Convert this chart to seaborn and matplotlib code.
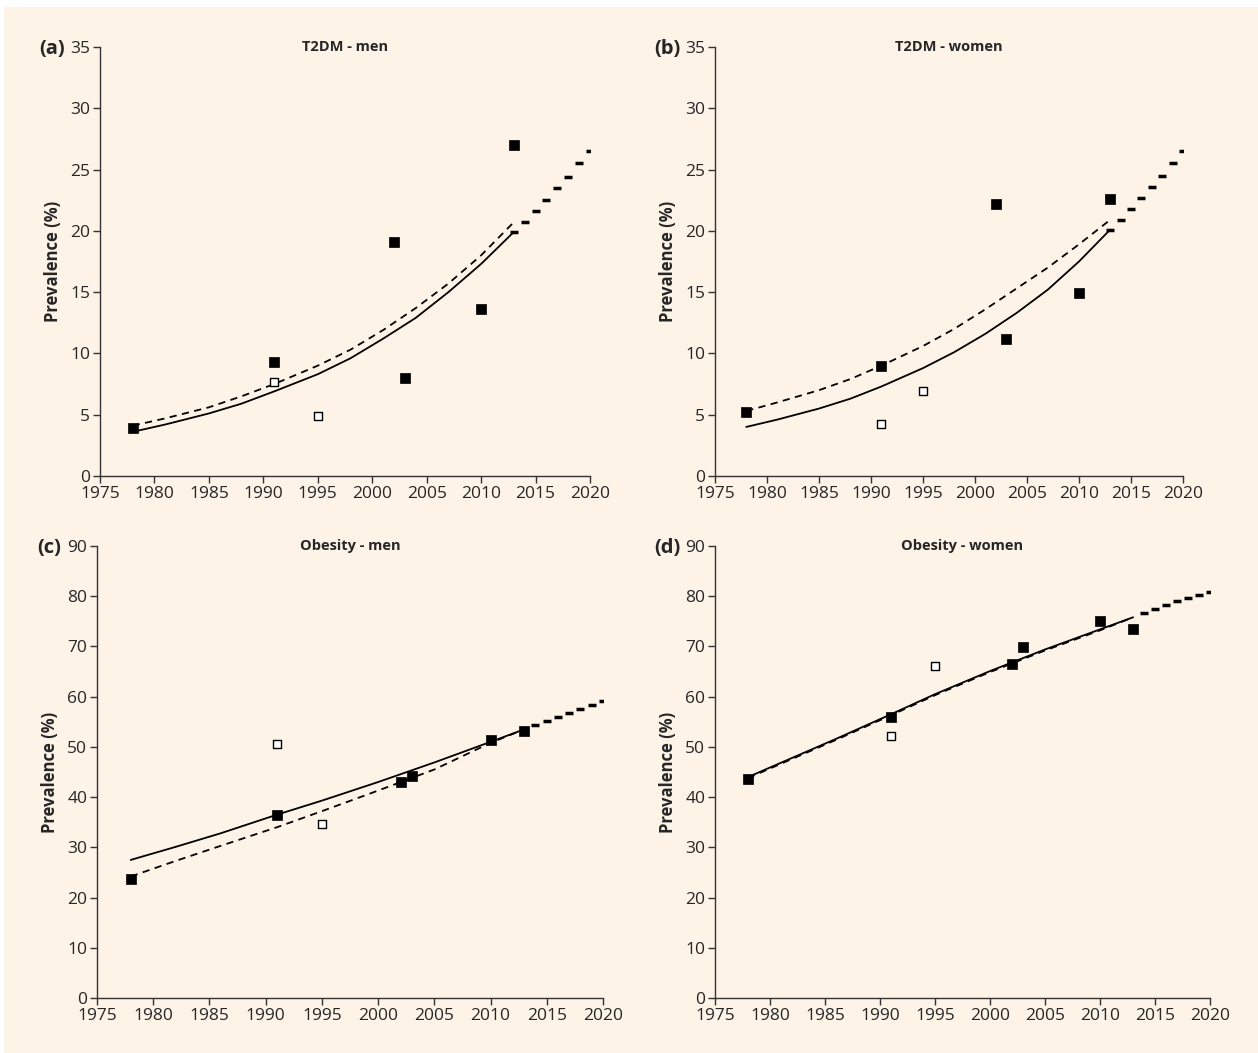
import matplotlib
matplotlib.use("Agg")
import matplotlib.pyplot as plt
import seaborn as sns
from matplotlib.patches import Rectangle

sns.set_style("ticks")
plt.rcParams['font.family'] = ['Open Sans', 'DejaVu Sans']

cream = "#FDF3E7"

# ---- (a) T2DM men ----
a_obs_years = [1978, 1991, 2002, 2003, 2010, 2013]
a_obs_vals = [3.9, 9.3, 19.1, 8.0, 13.6, 27.0]
a_open_years = [1991, 1995]
a_open_vals = [7.7, 4.9]
a_fit_years = [1978, 1981, 1985, 1988, 1991, 1995, 1998, 2001, 2004, 2007, 2010, 2013]
a_solid = [3.6, 4.2, 5.1, 5.9, 6.9, 8.3, 9.6, 11.2, 12.9, 15.0, 17.3, 19.9]
a_dashed = [4.1, 4.7, 5.6, 6.5, 7.5, 9.0, 10.3, 11.9, 13.7, 15.7, 18.0, 20.7]
a_proj_years = [2013, 2014, 2015, 2016, 2017, 2018, 2019, 2020]
a_proj = [19.9, 20.7, 21.6, 22.5, 23.5, 24.4, 25.5, 26.5]

# ---- (b) T2DM women ----
b_obs_years = [1978, 1991, 2002, 2003, 2010, 2013]
b_obs_vals = [5.2, 9.0, 22.2, 11.2, 14.9, 22.6]
b_open_years = [1991, 1995]
b_open_vals = [4.2, 6.9]
b_fit_years = [1978, 1981, 1985, 1988, 1991, 1995, 1998, 2001, 2004, 2007, 2010, 2013]
b_solid = [4.0, 4.6, 5.5, 6.3, 7.3, 8.8, 10.1, 11.6, 13.3, 15.2, 17.5, 20.1]
b_dashed = [5.3, 6.0, 7.0, 7.9, 9.0, 10.6, 12.0, 13.6, 15.3, 17.0, 18.9, 20.9]
b_proj_years = [2013, 2014, 2015, 2016, 2017, 2018, 2019, 2020]
b_proj = [20.1, 20.9, 21.8, 22.7, 23.6, 24.5, 25.5, 26.5]

# ---- (c) Obesity men ----
c_obs_years = [1978, 1991, 2002, 2003, 2010, 2013]
c_obs_vals = [23.6, 36.5, 43.0, 44.2, 51.3, 53.2]
c_open_years = [1991, 1995]
c_open_vals = [50.5, 34.7]
c_fit_years = [1978, 1982, 1986, 1991, 1995, 2000, 2005, 2010, 2013]
c_solid = [27.5, 30.1, 32.8, 36.5, 39.3, 43.0, 46.9, 51.0, 53.5]
c_dashed = [24.2, 27.3, 30.3, 34.0, 37.2, 41.3, 45.5, 50.8, 53.5]
c_proj_years = [2014, 2015, 2016, 2017, 2018, 2019, 2020]
c_proj = [54.4, 55.2, 56.0, 56.8, 57.6, 58.3, 59.1]

# ---- (d) Obesity women ----
d_obs_years = [1978, 1991, 2002, 2003, 2010, 2013]
d_obs_vals = [43.7, 56.0, 66.5, 69.8, 75.1, 73.5]
d_open_years = [1991, 1995]
d_open_vals = [52.1, 66.1]
d_fit_years = [1978, 1982, 1986, 1991, 1995, 2000, 2005, 2010, 2013]
d_solid = [44.0, 47.8, 51.6, 56.5, 60.5, 65.1, 69.4, 73.4, 75.8]
d_dashed = [43.8, 47.6, 51.4, 56.3, 60.3, 64.9, 69.2, 73.2, 75.8]
d_proj_years = [2014, 2015, 2016, 2017, 2018, 2019, 2020]
d_proj = [76.7, 77.5, 78.3, 79.0, 79.6, 80.3, 80.9]

W, H = 1258, 1053
fig = plt.figure(figsize=(W / 100, H / 100), dpi=100, facecolor="white")
fig.patches.append(Rectangle((0.003, 0.0), 0.997, 0.9935, transform=fig.transFigure,
                             facecolor=cream, edgecolor="none", zorder=-10))

panels = [
    ("(a)", "T2DM - men", [0.0795, 0.548, 0.3895, 0.4074], 35, 5,
     a_obs_years, a_obs_vals, a_open_years, a_open_vals, a_fit_years, a_solid, a_dashed,
     a_proj_years, a_proj),
    ("(b)", "T2DM - women", [0.5684, 0.548, 0.372, 0.4074], 35, 5,
     b_obs_years, b_obs_vals, b_open_years, b_open_vals, b_fit_years, b_solid, b_dashed,
     b_proj_years, b_proj),
    ("(c)", "Obesity - men", [0.0771, 0.0522, 0.4022, 0.4293], 90, 10,
     c_obs_years, c_obs_vals, c_open_years, c_open_vals, c_fit_years, c_solid, c_dashed,
     c_proj_years, c_proj),
    ("(d)", "Obesity - women", [0.5684, 0.0522, 0.3935, 0.4293], 90, 10,
     d_obs_years, d_obs_vals, d_open_years, d_open_vals, d_fit_years, d_solid, d_dashed,
     d_proj_years, d_proj),
]

for (lab, title, pos, ymax, ystep, oy, ov, py, pv, fy, fs, fd, jy, jv) in panels:
    ax = fig.add_axes(pos)
    ax.set_facecolor("none")
    sns.lineplot(x=fy, y=fs, ax=ax, color="black", lw=1.3)
    sns.lineplot(x=fy, y=fd, ax=ax, color="black", lw=1.3, linestyle=(0, (4, 3)))
    sns.scatterplot(x=jy, y=jv, ax=ax, marker="_", s=40, linewidth=2.5, color="black")
    sns.scatterplot(x=oy, y=ov, ax=ax, marker="s", s=50, color="black", edgecolor="black",
                    linewidth=0.5, zorder=5)
    sns.scatterplot(x=py, y=pv, ax=ax, marker="s", s=30, color="white", edgecolor="black",
                    linewidth=1, zorder=5)
    ax.set_xlim(1975, 2020)
    ax.set_ylim(0, ymax)
    ax.set_xticks(range(1975, 2021, 5))
    ax.set_yticks(range(0, ymax + 1, ystep))
    ax.tick_params(labelsize=12.5, length=5, width=1, color="#333333", pad=2)
    for s in ["top", "right"]:
        ax.spines[s].set_visible(False)
    for s in ["left", "bottom"]:
        ax.spines[s].set_color("#333333")
        ax.spines[s].set_linewidth(1)
    ax.set_ylabel("Prevalence (%)", fontsize=12, fontweight="bold", labelpad=6)
    ax.set_xlabel("")
    ax.text(0.5, 1.0, title, transform=ax.transAxes, ha="center", va="center",
            fontsize=10.5, fontweight="bold")
    fig.text(pos[0] - 48 / W, pos[1] + pos[3] - 2 / H, lab, ha="center", va="center",
             fontsize=14.5, fontweight="bold")

fig.savefig("out.png", dpi=100, facecolor=fig.get_facecolor())
